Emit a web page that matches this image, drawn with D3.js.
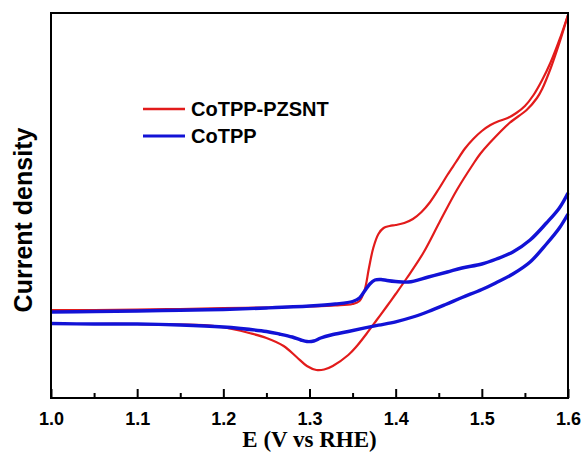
<!DOCTYPE html>
<html>
<head>
<meta charset="utf-8">
<script src="https://cdn.jsdelivr.net/npm/d3@7"></script>
<style>
  body { margin: 0; background: #fff; }
  svg { display: block; }
</style>
</head>
<body>
<div id="chart"></div>
<script>
// cyclic voltammograms, [potential (V vs RHE), current density (a.u.)]
var redForward = [[1.00, 8.8],[1.05, 8.8],[1.10, 8.85],[1.15, 8.9],[1.20, 9.0],[1.25, 9.05],[1.30, 9.15],[1.33, 9.25],[1.35, 9.4],[1.358, 9.7],[1.364, 10.8],[1.369, 13.0],[1.374, 15.0],[1.38, 16.4],[1.386, 17.0],[1.393, 17.2],[1.40, 17.3],[1.41, 17.5],[1.42, 17.9],[1.43, 18.6],[1.44, 19.6],[1.45, 20.9],[1.46, 22.3],[1.47, 23.6],[1.48, 24.9],[1.49, 25.9],[1.50, 26.7],[1.51, 27.3],[1.52, 27.7],[1.53, 28.0],[1.54, 28.5],[1.55, 29.2],[1.56, 30.3],[1.57, 31.8],[1.58, 33.6],[1.59, 35.8],[1.60, 38.3]]
var redReverse = [[1.60, 38.3],[1.59, 35.5],[1.58, 33.0],[1.57, 30.9],[1.564, 30.0],[1.552, 28.8],[1.532, 27.5],[1.509, 25.5],[1.498, 24.4],[1.49, 23.4],[1.471, 20.8],[1.451, 17.6],[1.432, 14.5],[1.413, 12.0],[1.40, 10.4],[1.39, 9.2],[1.378, 7.8],[1.366, 6.4],[1.355, 5.2],[1.345, 4.3],[1.327, 3.2],[1.317, 2.85],[1.308, 2.8],[1.297, 3.2],[1.285, 4.1],[1.27, 5.2],[1.25, 6.0],[1.23, 6.5],[1.21, 6.9],[1.19, 7.2],[1.15, 7.35],[1.10, 7.4],[1.05, 7.4],[1.00, 7.4]]
var blueForward = [[1.00, 8.6],[1.05, 8.65],[1.10, 8.7],[1.15, 8.78],[1.20, 8.85],[1.25, 9.0],[1.30, 9.2],[1.33, 9.4],[1.35, 9.65],[1.358, 10.0],[1.364, 10.7],[1.37, 11.4],[1.376, 11.8],[1.383, 11.85],[1.39, 11.75],[1.40, 11.65],[1.415, 11.6],[1.438, 12.1],[1.46, 12.6],[1.477, 13.0],[1.50, 13.4],[1.517, 13.9],[1.536, 14.6],[1.556, 15.8],[1.575, 17.5],[1.59, 19.0],[1.60, 20.5]]
var blueReverse = [[1.60, 18.4],[1.59, 17.0],[1.575, 15.4],[1.556, 13.6],[1.536, 12.4],[1.517, 11.55],[1.50, 10.85],[1.477, 10.05],[1.458, 9.35],[1.438, 8.65],[1.42, 8.1],[1.40, 7.62],[1.38, 7.28],[1.363, 6.98],[1.345, 6.65],[1.325, 6.3],[1.313, 6.0],[1.305, 5.7],[1.297, 5.65],[1.29, 5.8],[1.28, 6.1],[1.265, 6.4],[1.25, 6.65],[1.22, 6.95],[1.20, 7.1],[1.15, 7.3],[1.10, 7.4],[1.05, 7.4],[1.00, 7.45]]

var seriesNames = ["CoTPP-PZSNT", "CoTPP"]
var xTicks = [1.0, 1.1, 1.2, 1.3, 1.4, 1.5, 1.6]
var xMinorTicks = [1.05, 1.15, 1.25, 1.35, 1.45, 1.55]

var width = 586, height = 454
var margin = { left: 51, right: 18, top: 13, bottom: 56 }

var svg = d3.select("#chart").append("svg")
    .attr("width", width)
    .attr("height", height)

var x = d3.scaleLinear().domain([1.0, 1.6]).range([margin.left, width - margin.right])
var y = d3.scaleLinear().domain([0, 38.5]).range([height - margin.bottom, margin.top])

var line = d3.line()
    .x(function(d) { return x(d[0]) })
    .y(function(d) { return y(d[1]) })
    .curve(d3.curveCatmullRom.alpha(0.5))

var red = "#e21b1b", blue = "#1212d6"

var curves = [
  { data: redForward, color: red, w: 2.2 },
  { data: redReverse, color: red, w: 2.2 },
  { data: blueForward, color: blue, w: 3.4 },
  { data: blueReverse, color: blue, w: 3.4 }
]

svg.selectAll("path.cv")
    .data(curves)
  .enter().append("path")
    .attr("class", "cv")
    .attr("d", function(d) { return line(d.data) })
    .style("fill", "none")
    .style("stroke", function(d) { return d.color })
    .style("stroke-width", function(d) { return d.w })
    .style("stroke-linejoin", "round")

// bottom axis, ticks pointing inward
var xAxis = svg.append("g")
    .attr("transform", "translate(0," + y(0) + ")")
    .call(d3.axisBottom(x).tickValues(xTicks).tickSizeInner(-9).tickSizeOuter(0).tickPadding(14)
      .tickFormat(d3.format(".1f")))
xAxis.select(".domain").remove()
xAxis.selectAll("line").style("stroke", "#000").style("stroke-width", 2)
xAxis.selectAll("text")
    .style("font-family", "Liberation Sans, Arial, sans-serif")
    .style("font-weight", "bold")
    .style("font-size", "18px")
    .style("fill", "#000")

var minor = svg.append("g")
    .attr("transform", "translate(0," + y(0) + ")")
    .call(d3.axisBottom(x).tickValues(xMinorTicks).tickSizeInner(-5).tickSizeOuter(0).tickFormat(""))
minor.select(".domain").remove()
minor.selectAll("line").style("stroke", "#000").style("stroke-width", 2)

// frame
svg.append("rect")
    .attr("x", x(1.0))
    .attr("y", y(38.5))
    .attr("width", x(1.6) - x(1.0))
    .attr("height", y(0) - y(38.5))
    .style("fill", "none")
    .style("stroke", "#000")
    .style("stroke-width", 2)

svg.append("text")
    .attr("x", (x(1.0) + x(1.6)) / 2)
    .attr("y", 447)
    .attr("text-anchor", "middle")
    .style("font-family", "Liberation Serif, Times New Roman, serif")
    .style("font-weight", "bold")
    .style("font-size", "23px")
    .text("E (V vs RHE)")

svg.append("text")
    .attr("transform", "translate(32,220) rotate(-90)")
    .attr("text-anchor", "middle")
    .style("font-family", "Liberation Sans, Arial, sans-serif")
    .style("font-weight", "bold")
    .style("font-size", "25px")
    .text("Current density")

// legend
var legend = svg.selectAll("g.legend")
    .data(seriesNames)
  .enter().append("g")
    .attr("class", "legend")
    .attr("transform", function(d, i) { return "translate(143," + (109 + i * 27) + ")" })

legend.append("line")
    .attr("x1", 0).attr("x2", 42)
    .style("stroke", function(d, i) { return i == 0 ? red : blue })
    .style("stroke-width", function(d, i) { return i == 0 ? 2.5 : 3 })

legend.append("text")
    .attr("x", 48)
    .attr("y", 6.5)
    .style("font-family", "Liberation Sans, Arial, sans-serif")
    .style("font-weight", "bold")
    .style("font-size", "20px")
    .text(function(d) { return d })
</script>
</body>
</html>
